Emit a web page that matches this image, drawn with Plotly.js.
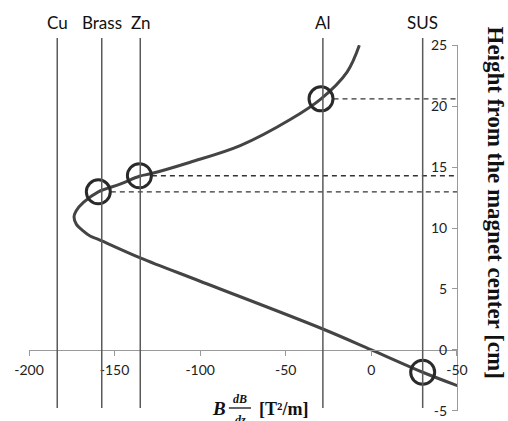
<!DOCTYPE html>
<html>
<head>
<meta charset="utf-8">
<script src="https://cdn.plot.ly/plotly-3.0.1.min.js"></script>
<style>html,body{margin:0;padding:0;background:#fff;}#chart{width:508px;height:421px;}</style>
</head>
<body>
<div id="chart"></div>
<script>
// ---- data ----
const curveX = [-7, -14.2, -29.4, -47.4, -76.6, -105.8, -129, -135.5, -146.8, -159.5, -168.2, -172.5, -173.7, -172.3, -168.2, -164.3, -159.5, -135, -100, -28.7, 0, 30, 50.3];
const curveY = [25.0, 22.8, 20.6, 18.9, 16.76, 15.4, 14.45, 14.25, 13.6, 12.97, 12.1, 11.4, 10.9, 10.3, 9.75, 9.34, 9.07, 7.55, 5.63, 1.73, 0, -1.84, -2.94];

const materialNames = ['Cu', 'Brass', 'Zn', 'Al', 'SUS'];
const materialX = [-183.5, -157.5, -135, -28.3, 30];

const circleNames = ['Brass', 'Zn', 'Al', 'SUS'];
const circleX = [-159.5, -135.5, -29.4, 30];
const circleY = [12.97, 14.29, 20.6, -1.84];

const dashedFor = ['Brass', 'Zn', 'Al'];

const xTickVals = [-200, -150, -100, -50, 0, 50];
const xTickText = ['-200', '-150', '-100', '-50', '0', '-50'];
const yTickVals = [-5, 0, 5, 10, 15, 20, 25];
const yTickText = ['-5', '0', '5', '10', '15', '20', '25'];

// ---- build chart ----
const xRange = [-200, 50.05], yRange = [-5.02, 25.02];
const circleRadiusData = 7.3;

const traces = [];
dashedFor.forEach(n => {
  const i = circleNames.indexOf(n);
  traces.push({
    x: [circleX[i] + circleRadiusData, xRange[1]],
    y: [circleY[i], circleY[i]],
    mode: 'lines', hoverinfo: 'skip', showlegend: false,
    line: {color: '#333', width: 1.3, dash: '5px,4px'}
  });
});
traces.push({
  x: curveX, y: curveY, mode: 'lines', showlegend: false,
  line: {color: '#444', width: 3, shape: 'spline', smoothing: 1}
});
traces.push({
  x: circleX, y: circleY, mode: 'markers', showlegend: false, cliponaxis: false,
  marker: {symbol: 'circle-open', size: 24, color: '#2a2a2a', line: {width: 3, color: '#2a2a2a'}}
});

const shapes = materialX.map(x => ({
  type: 'line', xref: 'x', yref: 'paper', x0: x, x1: x, y0: 0.008, y1: 1.019,
  line: {color: '#5a5a5a', width: 1.5}
}));
// fraction bar of the x title
shapes.push({type: 'line', xref: 'paper', yref: 'paper', x0: 0.467, x1: 0.5187, y0: 0.0082, y1: 0.0082,
  line: {color: '#111', width: 1.3}});

const annotations = materialNames.map((n, i) => ({
  text: n, xref: 'x', yref: 'paper', x: materialX[i], y: 1.062,
  showarrow: false, xanchor: 'center', yanchor: 'middle',
  font: {family: 'Lato, sans-serif', size: 17, color: '#111'}
}));
const serif = '"Liberation Serif", "Times New Roman", serif';
annotations.push(
  {text: '<b>Height from the magnet center [cm]</b>', xref: 'paper', yref: 'paper', x: 1.090, y: 0.571,
   textangle: 90, showarrow: false, xanchor: 'center', yanchor: 'middle', font: {family: serif, size: 23, color: '#111'}},
  {text: '<b><i>B</i></b>', xref: 'paper', yref: 'paper', x: 0.444, y: 0.0055, showarrow: false,
   xanchor: 'center', yanchor: 'middle', font: {family: serif, size: 19, color: '#111'}},
  {text: '<b><i>dB</i></b>', xref: 'paper', yref: 'paper', x: 0.493, y: 0.0328, showarrow: false,
   xanchor: 'center', yanchor: 'middle', font: {family: serif, size: 12, color: '#111'}},
  {text: '<b><i>dz</i></b>', xref: 'paper', yref: 'paper', x: 0.493, y: -0.0246, showarrow: false,
   xanchor: 'center', yanchor: 'middle', font: {family: serif, size: 12, color: '#111'}},
  {text: '<b>[T²/m]</b>', xref: 'paper', yref: 'paper', x: 0.5946, y: 0.0055, showarrow: false,
   xanchor: 'center', yanchor: 'middle', font: {family: serif, size: 18, color: '#111'}}
);

const layout = {
  width: 508, height: 421,
  margin: {l: 29, r: 51, t: 45, b: 10, pad: 0},
  paper_bgcolor: '#fff', plot_bgcolor: '#fff',
  showlegend: false,
  xaxis: {
    range: xRange, showgrid: false, zeroline: false,
    anchor: 'free', position: (0 - yRange[0]) / (yRange[1] - yRange[0]),
    showline: true, linecolor: '#9a9a9a', linewidth: 1,
    ticks: 'outside', ticklen: 5, tickcolor: '#9a9a9a',
    tickvals: xTickVals, ticktext: xTickText, ticklabelstandoff: 2,
    tickfont: {family: 'Lato, sans-serif', size: 14, color: '#222'}
  },
  yaxis: {
    range: yRange, side: 'left', anchor: 'free', position: 1,
    showgrid: false, zeroline: false,
    showline: true, linecolor: '#9a9a9a', linewidth: 1,
    ticks: 'outside', ticklen: 5, tickcolor: '#9a9a9a',
    tickvals: yTickVals, ticktext: yTickText, ticklabelstandoff: 2,
    tickfont: {family: 'Lato, sans-serif', size: 14, color: '#222'}
  },
  shapes: shapes,
  annotations: annotations
};

Plotly.newPlot('chart', traces, layout, {staticPlot: true, displayModeBar: false});
</script>
</body>
</html>
